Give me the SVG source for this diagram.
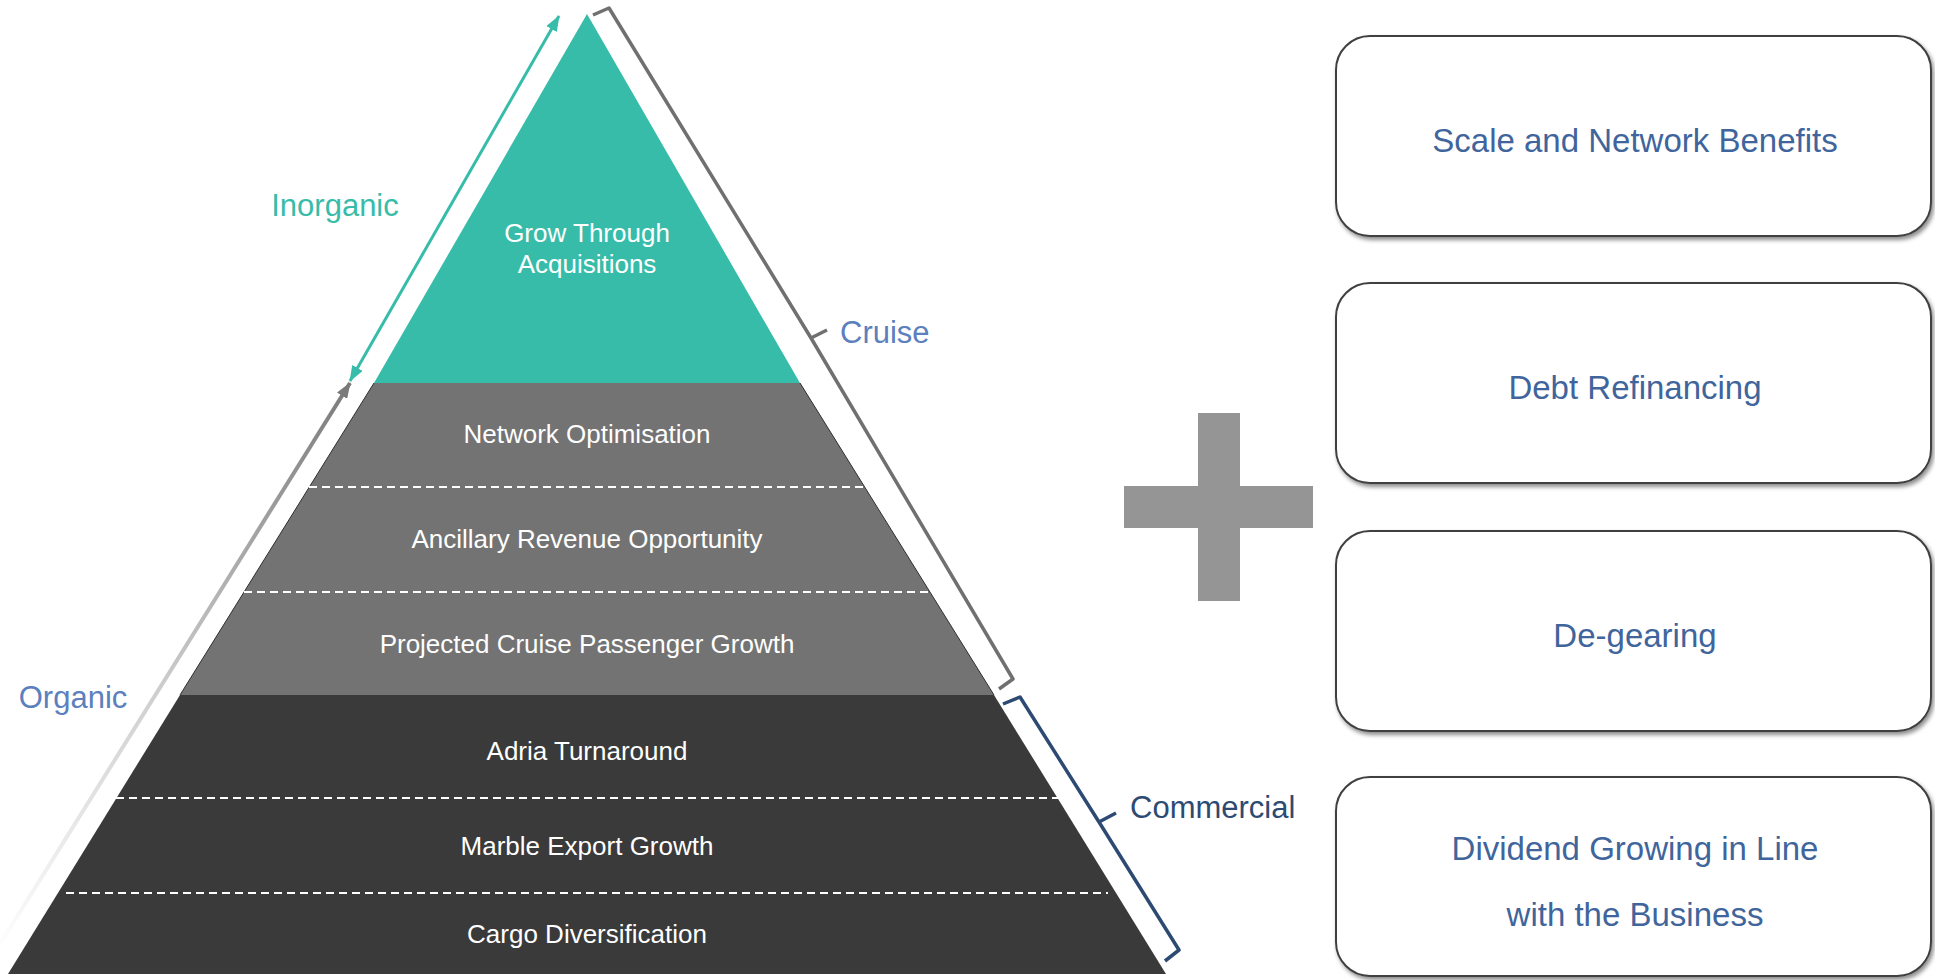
<svg xmlns="http://www.w3.org/2000/svg" width="1935" height="980" viewBox="0 0 1935 980">
  <defs>
    <style>
      .band-label { font-family: "Liberation Sans", Arial, sans-serif; font-size: 26px; fill: #ffffff; text-anchor: middle; }
      .side-label { font-family: "Liberation Sans", Arial, sans-serif; font-size: 31px; }
      .box { fill: #ffffff; stroke: #3f3f3f; stroke-width: 2; filter: url(#shadow); }
      .box-label { font-family: "Liberation Sans", Arial, sans-serif; font-size: 33px; fill: #3f659c; text-anchor: middle; }
      .divider { stroke: #ffffff; stroke-width: 2; stroke-dasharray: 8 5; }
      .edge { stroke: #2f2f2f; stroke-width: 1; fill: none; }
    </style>
    <filter id="shadow" x="-5%" y="-5%" width="112%" height="115%">
      <feDropShadow dx="2" dy="3" stdDeviation="2" flood-color="#000000" flood-opacity="0.45"/>
    </filter>
    <linearGradient id="organicFade" gradientUnits="userSpaceOnUse" x1="-5" y1="952" x2="350" y2="383">
      <stop offset="0" stop-color="#ffffff"/>
      <stop offset="0.45" stop-color="#cfcfcf"/>
      <stop offset="1" stop-color="#7a7a7a"/>
    </linearGradient>
    <marker id="tealHead" viewBox="0 0 16 12" refX="15" refY="6" markerWidth="16" markerHeight="12" markerUnits="userSpaceOnUse" orient="auto-start-reverse">
      <path d="M0,0 L16,6 L0,12 Z" fill="#37bca9"/>
    </marker>
    <marker id="grayHead" viewBox="0 0 16 12" refX="15" refY="6" markerWidth="16" markerHeight="12" markerUnits="userSpaceOnUse" orient="auto">
      <path d="M0,0 L16,6 L0,12 Z" fill="#7a7a7a"/>
    </marker>
  </defs>

  <rect width="1935" height="980" fill="#ffffff"/>

  <!-- Pyramid -->
  <g id="tier-commercial">
    <polygon points="180,695 994,695 1166,974 8,974" fill="#3a3a3a"/>
    <line class="divider" x1="116" y1="798" x2="1058" y2="798"/>
    <line class="divider" x1="66" y1="893" x2="1108" y2="893"/>
    <text class="band-label" x="587" y="760">Adria Turnaround</text>
    <text class="band-label" x="587" y="855">Marble Export Growth</text>
    <text class="band-label" x="587" y="943">Cargo Diversification</text>
  </g>

  <g id="tier-cruise">
    <polygon points="374,383 800,383 994,695 180,695" fill="#737373"/>
    <line class="edge" x1="374" y1="383" x2="180" y2="695"/>
    <line class="edge" x1="800" y1="383" x2="994" y2="695"/>
    <line class="divider" x1="309" y1="487" x2="865" y2="487"/>
    <line class="divider" x1="244" y1="592" x2="930" y2="592"/>
    <text class="band-label" x="587" y="443">Network Optimisation</text>
    <text class="band-label" x="587" y="548">Ancillary Revenue Opportunity</text>
    <text class="band-label" x="587" y="653">Projected Cruise Passenger Growth</text>
  </g>

  <g id="tier-acquisitions">
    <polygon points="587,14 800,383 374,383" fill="#37bca9"/>
    <text class="band-label" x="587" y="242">Grow Through</text>
    <text class="band-label" x="587" y="273">Acquisitions</text>
  </g>

  <!-- Growth arrows and segment brackets -->
  <g id="connectors" fill="none">
    <line x1="-5" y1="952" x2="350" y2="383" stroke="url(#organicFade)" stroke-width="4" marker-end="url(#grayHead)"/>
    <line x1="559" y1="16" x2="350" y2="381" stroke="#37bca9" stroke-width="3" marker-start="url(#tealHead)" marker-end="url(#tealHead)"/>
    <path d="M593,15 L609,8 L811,338 L827,330 M811,338 L1013,679 L999,689" stroke="#707070" stroke-width="3.5" stroke-linejoin="round"/>
    <path d="M1003,704 L1020,697 L1099,822 L1116,813 M1099,822 L1179,950 L1165,961" stroke="#2d4a73" stroke-width="3.5" stroke-linejoin="round"/>
  </g>

  <g id="label-inorganic">
    <text class="side-label" x="335" y="216" text-anchor="middle" fill="#37bca9">Inorganic</text>
  </g>
  <g id="label-organic">
    <text class="side-label" x="73" y="708" text-anchor="middle" fill="#5b80bd">Organic</text>
  </g>
  <g id="label-cruise">
    <text class="side-label" x="840" y="343" fill="#5b80bd">Cruise</text>
  </g>
  <g id="label-commercial">
    <text class="side-label" x="1130" y="818" fill="#2d4a73">Commercial</text>
  </g>

  <!-- Plus sign -->
  <g id="plus" fill="#959595">
    <rect x="1198" y="413" width="42" height="188"/>
    <rect x="1124" y="486" width="189" height="42"/>
  </g>

  <!-- Financial levers -->
  <g id="box-scale">
    <rect class="box" x="1336" y="36" width="595" height="200" rx="34"/>
    <text class="box-label" x="1635" y="152">Scale and Network Benefits</text>
  </g>
  <g id="box-debt">
    <rect class="box" x="1336" y="283" width="595" height="200" rx="34"/>
    <text class="box-label" x="1635" y="399">Debt Refinancing</text>
  </g>
  <g id="box-degearing">
    <rect class="box" x="1336" y="531" width="595" height="200" rx="34"/>
    <text class="box-label" x="1635" y="647">De-gearing</text>
  </g>
  <g id="box-dividend">
    <rect class="box" x="1336" y="777" width="595" height="199" rx="34"/>
    <text class="box-label" x="1635" y="860">Dividend Growing in Line</text>
    <text class="box-label" x="1635" y="926">with the Business</text>
  </g>
</svg>
